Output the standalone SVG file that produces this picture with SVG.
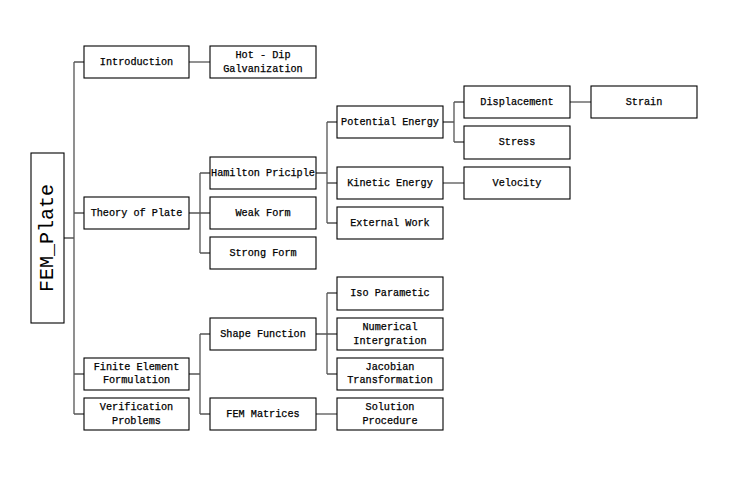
<svg xmlns="http://www.w3.org/2000/svg" width="729" height="478" viewBox="0 0 729 478">
<style>
.box{fill:#fff;stroke:#000;stroke-width:1.1}
.t{font-family:"Liberation Mono","DejaVu Sans Mono",monospace;font-size:10.2px;fill:#000;text-anchor:middle;dominant-baseline:central;stroke:#000;stroke-width:0.25}
.root{font-family:"Liberation Mono","DejaVu Sans Mono",monospace;font-size:20px;fill:#000;text-anchor:middle;dominant-baseline:central}
.c{fill:none;stroke:#555;stroke-width:1.3}
</style>
<rect width="729" height="478" fill="#fff"/>
<g id="connectors">
<path class="c" d="M64 238H74M74 62V414M74 62H84M74 213H84M74 374H84M74 414H84"/>
<path class="c" d="M189 62H210"/>
<path class="c" d="M189 213H200M200 173V253M200 173H210M200 213H210M200 253H210"/>
<path class="c" d="M316 173H327M327 122V223M327 122H337M327 183H337M327 223H337"/>
<path class="c" d="M443 122H454M454 102V142M454 102H464M454 142H464"/>
<path class="c" d="M570 102H591"/>
<path class="c" d="M443 183H464"/>
<path class="c" d="M189 374H200M200 334V414M200 334H210M200 414H210"/>
<path class="c" d="M316 334H327M327 293V374M327 293H337M327 334H337M327 374H337"/>
<path class="c" d="M316 414H337"/>
</g>
<g id="root"><rect class="box" x="31" y="153" width="33" height="170"/><text class="root" transform="translate(47.5 238) rotate(-90)">FEM_Plate</text></g>
<g id="introduction"><rect class="box" x="84" y="46" width="105" height="32"/><text class="t" x="136.5" y="62">Introduction</text></g>
<g id="theory"><rect class="box" x="84" y="197" width="105" height="32"/><text class="t" x="136.5" y="213">Theory of Plate</text></g>
<g id="fef"><rect class="box" x="84" y="358" width="105" height="32"/><text class="t" x="136.5" y="367">Finite Element</text><text class="t" x="136.5" y="380">Formulation</text></g>
<g id="verification"><rect class="box" x="84" y="398" width="105" height="32"/><text class="t" x="136.5" y="407">Verification</text><text class="t" x="136.5" y="421">Problems</text></g>
<g id="hotdip"><rect class="box" x="210" y="46" width="106" height="32"/><text class="t" x="263" y="55">Hot - Dip</text><text class="t" x="263" y="69">Galvanization</text></g>
<g id="hamilton"><rect class="box" x="210" y="157" width="106" height="32"/><text class="t" x="263" y="173">Hamilton Priciple</text></g>
<g id="weak"><rect class="box" x="210" y="197" width="106" height="32"/><text class="t" x="263" y="213">Weak Form</text></g>
<g id="strong"><rect class="box" x="210" y="237" width="106" height="32"/><text class="t" x="263" y="253">Strong Form</text></g>
<g id="shape"><rect class="box" x="210" y="318" width="106" height="32"/><text class="t" x="263" y="334">Shape Function</text></g>
<g id="femmat"><rect class="box" x="210" y="398" width="106" height="32"/><text class="t" x="263" y="414">FEM Matrices</text></g>
<g id="potential"><rect class="box" x="337" y="106" width="106" height="32"/><text class="t" x="390" y="122">Potential Energy</text></g>
<g id="kinetic"><rect class="box" x="337" y="167" width="106" height="32"/><text class="t" x="390" y="183">Kinetic Energy</text></g>
<g id="external"><rect class="box" x="337" y="207" width="106" height="32"/><text class="t" x="390" y="223">External Work</text></g>
<g id="iso"><rect class="box" x="337" y="277" width="106" height="33"/><text class="t" x="390" y="293">Iso Parametic</text></g>
<g id="numerical"><rect class="box" x="337" y="318" width="106" height="32"/><text class="t" x="390" y="327">Numerical</text><text class="t" x="390" y="341">Intergration</text></g>
<g id="jacobian"><rect class="box" x="337" y="358" width="106" height="32"/><text class="t" x="390" y="367">Jacobian</text><text class="t" x="390" y="380">Transformation</text></g>
<g id="solution"><rect class="box" x="337" y="398" width="106" height="32"/><text class="t" x="390" y="407">Solution</text><text class="t" x="390" y="421">Procedure</text></g>
<g id="displacement"><rect class="box" x="464" y="86" width="106" height="32"/><text class="t" x="517" y="102">Displacement</text></g>
<g id="stress"><rect class="box" x="464" y="126" width="106" height="33"/><text class="t" x="517" y="142">Stress</text></g>
<g id="velocity"><rect class="box" x="464" y="167" width="106" height="32"/><text class="t" x="517" y="183">Velocity</text></g>
<g id="strain"><rect class="box" x="591" y="86" width="106" height="32"/><text class="t" x="644" y="102">Strain</text></g>
</svg>
